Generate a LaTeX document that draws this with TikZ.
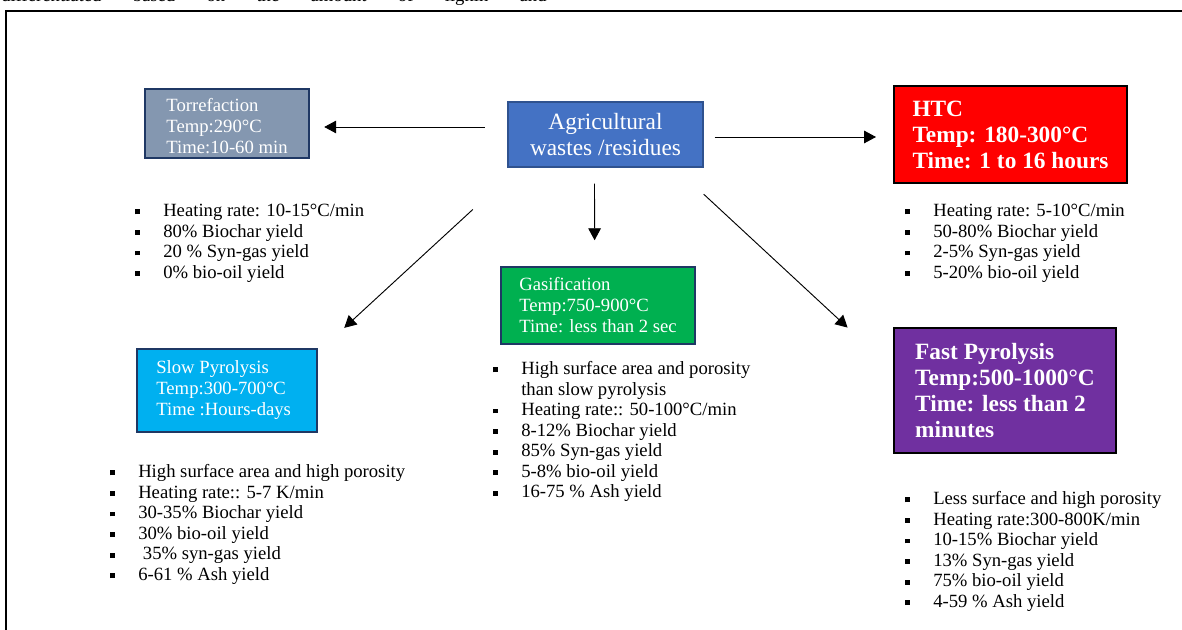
\documentclass[tikz,border=0pt]{standalone}
\usepackage{fontspec}
\setmainfont{Liberation Serif}
\usetikzlibrary{arrows.meta,calc}

\definecolor{torrfill}{HTML}{8497B0}
\definecolor{agrifill}{HTML}{4472C4}
\definecolor{agriline}{HTML}{2F528F}
\definecolor{navyline}{HTML}{1F3864}
\definecolor{htcfill}{HTML}{FF0000}
\definecolor{gasifill}{HTML}{00B050}
\definecolor{slowfill}{HTML}{00B0F0}
\definecolor{fastfill}{HTML}{7030A0}

\newcommand{\sqitem}[1]{\makebox[21pt][l]{\rule[1.7pt]{3.7pt}{3.7pt}}\strut#1}

\begin{document}
\begin{tikzpicture}[x=0.75pt, y=-0.75pt]

% definitions
\tikzstyle{procbox} = [rectangle, inner sep=0pt, align=left, text=white, font=\fontsize{14}{15.75}\selectfont, draw=navyline, line width=1.1pt]

\tikzstyle{boldbox} = [rectangle, inner sep=0pt, align=left, text=white, font=\fontsize{17.5}{19.5}\selectfont\bfseries, draw=black, line width=1.5pt]

\tikzstyle{sourcebox} = [rectangle, inner sep=0pt, align=center, text=white, font=\fontsize{17.5}{19.9}\selectfont, draw=agriline, line width=1.1pt]

\tikzstyle{bulletlist} = [inner sep=0pt, align=left, anchor=north west, font=\fontsize{14}{15.4}\selectfont]

\tikzstyle{arrow} = [-{Triangle[length=9pt,width=9.5pt]}, line width=0.7pt]

\useasboundingbox (0,0) rectangle (1182,630);
\clip (0,0) rectangle (1182,630);

% page frame and clipped line above it
\node (excerpt) [anchor=base west, inner sep=0pt, font=\fontsize{14}{16}\selectfont] at (1,1.5) {\makebox[409pt][s]{differentiated based on the amount of lignin and}};
\draw[line width=1.3pt] (6,11) rectangle (1195,645);


% boxes
\node (agri) [sourcebox, fill=agrifill, minimum width=146.25pt, minimum height=48.75pt] at (605.5,134.5) {Agricultural\\wastes /residues};

\node (torr) [procbox, fill=torrfill, minimum width=123pt, minimum height=52pt] at (227,123.5) {\rule{0pt}{13.5pt}Torrefaction\\Temp:290°C\\Time:10-60 min};

\node (htc) [boldbox, fill=htcfill, minimum width=174.75pt, minimum height=72.75pt] at (1010.5,134.5) {HTC\\Temp: 180-300°C\\Time: 1 to 16 hours};

\node (gasi) [procbox, fill=gasifill, minimum width=145.5pt, minimum height=57.75pt] at (598,305.5) {Gasification\\Temp:750-900°C\\Time: less than 2 sec};

\node (slow) [procbox, fill=slowfill, minimum width=135pt, minimum height=62.25pt] at (227,390.5) {Slow Pyrolysis\\Temp:300-700°C\\Time :Hours-days\hspace*{5pt}};

\node (fast) [boldbox, fill=fastfill, minimum width=166.5pt, minimum height=93.75pt] at (1005,390.5) {Fast Pyrolysis\\Temp:500-1000°C\hspace*{4pt}\\Time: less than 2\\minutes};


% arrows
\draw [arrow] ($(agri.west)+(-22.5,-7.5)$) -- ($(torr.east)+(14.5,3.5)$);
\draw [arrow] ($(agri.east)+(11,2.5)$) -- ($(htc.west)+(-17,2.5)$);
\draw [arrow] ($(agri.south)+(-11,16)$) -- ($(gasi.north)+(-3.4,-26)$);
\draw [arrow] ($(agri.south west)+(-34.4,41.7)$) -- ($(slow.north east)+(26.5,-20.4)$);
\draw [arrow] ($(agri.south east)+(0,26.5)$) -- ($(fast.north west)+(-45.4,0.6)$);


% properties
\node (torrlist) [bulletlist] at (135,202) {\sqitem{Heating rate: 10-15°C/min}\\\sqitem{80\% Biochar yield}\\\sqitem{20 \% Syn-gas yield}\\\sqitem{0\% bio-oil yield}};

\node (htclist) [bulletlist] at (905,202) {\sqitem{Heating rate: 5-10°C/min}\\\sqitem{50-80\% Biochar yield}\\\sqitem{2-5\% Syn-gas yield}\\\sqitem{5-20\% bio-oil yield}};

\node (gasilist) [bulletlist] at (493,360) {\sqitem{High surface area and porosity}\\\hspace*{21pt}\strut than slow pyrolysis\\\sqitem{Heating rate:: 50-100°C/min}\\\sqitem{8-12\% Biochar yield}\\\sqitem{85\% Syn-gas yield}\\\sqitem{5-8\% bio-oil yield}\\\sqitem{16-75 \% Ash yield}};

\node (slowlist) [bulletlist] at (110,463) {\sqitem{High surface area and high porosity}\\\sqitem{Heating rate:: 5-7 K/min}\\\sqitem{30-35\% Biochar yield}\\\sqitem{30\% bio-oil yield}\\\sqitem{\ 35\% syn-gas yield}\\\sqitem{6-61 \% Ash yield}};

\node (fastlist) [bulletlist] at (905,490) {\sqitem{Less surface and high porosity}\\\sqitem{Heating rate:300-800K/min}\\\sqitem{10-15\% Biochar yield}\\\sqitem{13\% Syn-gas yield}\\\sqitem{75\% bio-oil yield}\\\sqitem{4-59 \% Ash yield}};

\end{tikzpicture}
\end{document}
